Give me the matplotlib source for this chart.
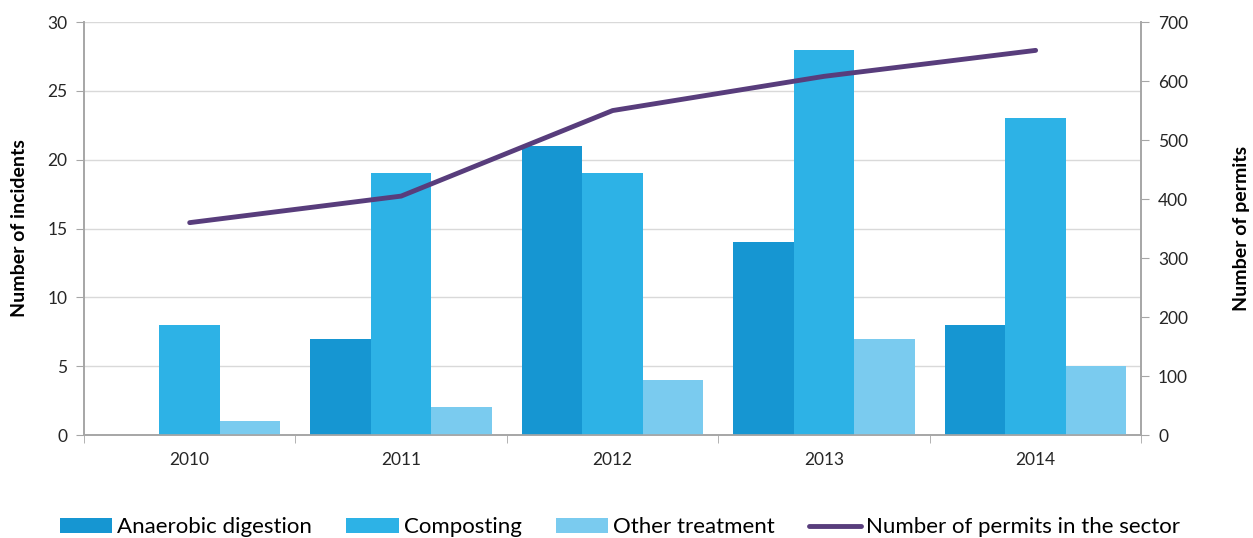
import matplotlib
matplotlib.use("Agg")
import matplotlib.pyplot as plt
import numpy as np

years = ["2010", "2011", "2012", "2013", "2014"]
anaerobic = [0, 7, 21, 14, 8]
composting = [8, 19, 19, 28, 23]
other = [1, 2, 4, 7, 5]
permits = [360, 405, 550, 608, 652]

plt.rcParams['font.family'] = ['Lato', 'DejaVu Sans']

fig = plt.figure(figsize=(12.53, 5.38), dpi=100)
ax = fig.add_axes([0.067, 0.1914, 0.8439, 0.7676])
ax2 = ax.twinx()

x = np.arange(len(years))
w = 0.286
c_ad, c_co, c_ot, c_line = "#1696D2", "#2DB2E6", "#7ACBEF", "#583D7C"
ax.bar(x - w, anaerobic, w, color=c_ad, label="Anaerobic digestion", zorder=3)
ax.bar(x, composting, w, color=c_co, label="Composting", zorder=3)
ax.bar(x + w, other, w, color=c_ot, label="Other treatment", zorder=3)
ax2.plot(x, permits, color=c_line, lw=3.5, solid_capstyle="round", label="Number of permits in the sector")

ax.set_xlim(-0.5, len(years) - 0.5)
ax.set_ylim(0, 30)
ax.set_yticks(range(0, 31, 5))
ax2.set_ylim(0, 700)
ax2.set_yticks(range(0, 701, 100))

ax.set_xticks(x)
ax.set_xticklabels(years, fontsize=12.5, color="#262626")
ax.set_xticks(np.arange(-0.5, len(years), 1), minor=True)
ax.tick_params(axis="x", which="major", length=0, pad=12)
ax.tick_params(axis="x", which="minor", length=6, color="#A6A6A6", direction="out")
ax.tick_params(axis="y", labelsize=12.5, labelcolor="#262626", length=6, color="#A6A6A6", pad=6)
ax2.tick_params(axis="y", labelsize=12.5, labelcolor="#262626", length=6, color="#A6A6A6", pad=6)

ax.grid(axis="y", color="#D9D9D9", lw=1, zorder=0)
ax.set_axisbelow(True)
for a in (ax, ax2):
    a.spines["top"].set_visible(False)
    for s in ("left", "right", "bottom"):
        a.spines[s].set_color("#A6A6A6")
        a.spines[s].set_linewidth(1.2)

ax.set_ylabel("Number of incidents", fontsize=14, fontweight="bold", labelpad=14)
ax2.set_ylabel("Number of permits", fontsize=14, fontweight="bold", labelpad=32)

h1, l1 = ax.get_legend_handles_labels()
h2, l2 = ax2.get_legend_handles_labels()
fig.legend(h1 + h2, l1 + l2, loc="center left", bbox_to_anchor=(0.0479, 0.02), ncol=4,
           frameon=False, fontsize=16.0, handlelength=2.35, handleheight=0.62,
           handletextpad=0.22, columnspacing=1.55, borderpad=0, borderaxespad=0)

fig.savefig("out.png", dpi=100)
